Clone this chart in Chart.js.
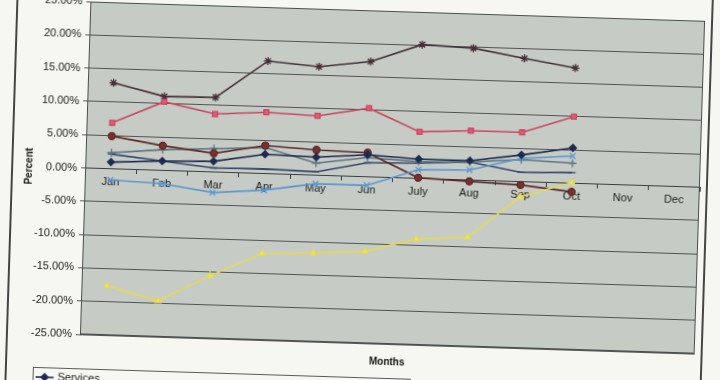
<!DOCTYPE html>
<html>
<head>
<meta charset="utf-8">
<script src="https://cdn.jsdelivr.net/npm/chart.js@4/dist/chart.umd.min.js"></script>
<style>
  html, body { margin: 0; padding: 0; background: #f6f6f2; overflow: hidden; }
  #wrap { position: relative; width: 720px; height: 380px; overflow: hidden; background: #f6f6f2; }
  #c { position: absolute; left: -20px; top: -20px; width: 760px; height: 440px;
       transform-origin: 410px 198px; transform: rotate(1.8deg); }
</style>
</head>
<body>
<div id="wrap"><canvas id="c" width="760" height="440"></canvas></div>
<script>
// ---- data (percent) ----
const months = ['Jan', 'Feb', 'Mar', 'Apr', 'May', 'Jun', 'July', 'Aug', 'Sep', 'Oct', 'Nov', 'Dec'];
const seriesNames = ['Services', 'Series 2', 'Series 3', 'Series 4', 'Series 5', 'Series 6', 'Series 7', 'Series 8'];
const services = [1.0, 1.4, 1.6, 2.9, 2.7, 3.3, 2.9, 2.9, 4.0, 5.3, null, null];
const series2  = [6.9, 10.3, 8.7, 9.2, 8.9, 10.3, 7.0, 7.4, 7.4, 10.0, null, null];
const series3  = [-17.6, -19.6, -15.6, -12.0, -11.7, -11.2, -9.1, -8.6, -2.3, 0.1, null, null];
const series4  = [-1.7, -2.0, -3.1, -2.5, -1.3, -1.3, 1.3, 1.5, 3.5, 4.1, null, null];
const series5  = [12.9, 11.1, 11.2, 16.9, 16.3, 17.3, 20.1, 19.8, 18.5, 17.3, null, null];
const series6  = [4.9, 3.7, 2.8, 4.2, 3.8, 3.6, 0.1, -0.2, -0.5, -1.3, null, null];
const series7  = [2.4, 3.1, 3.5, 3.9, 1.8, 2.9, 2.5, 2.7, 3.3, 3.0, null, null];
const series8  = [2.2, 1.4, 0.6, 0.7, 0.5, 2.1, 2.3, 2.7, 1.4, 1.6, null, null];
const yMin = -25, yMax = 25, yStep = 5;

const FONT = "'Liberation Sans', Arial, sans-serif";
const paper = '#f6f6f2';

function ds(label, data, color, style, fill, radius) {
  return {
    label, data,
    borderColor: color, backgroundColor: fill || color,
    pointBackgroundColor: fill || color, pointBorderColor: color,
    pointStyle: style, pointRadius: radius || 3.5, pointBorderWidth: 1.3,
    borderWidth: 1.6, tension: 0, spanGaps: false
  };
}

const datasets = [
  ds(seriesNames[0], services, '#1f2b4d', 'rectRot', '#1f2b4d', 3.5),
  ds(seriesNames[1], series2, '#c9485f', 'rect', '#e25a78', 3.5),
  ds(seriesNames[2], series3, '#e3d955', 'triangle', '#f0e55e', 3.5),
  ds(seriesNames[3], series4, '#5a98cf', 'crossRot', '#5a98cf', 4),
  ds(seriesNames[4], series5, '#45303a', 'star', '#45303a', 4),
  ds(seriesNames[5], series6, '#5a2a28', 'circle', '#7b2f2b', 3.5),
  ds(seriesNames[6], series7, '#5a7580', 'cross', '#5a7580', 4),
  ds(seriesNames[7], series8, '#36476b', 'line', '#36476b', 3.5)
];

const decor = {
  id: 'decor',
  beforeDraw(chart) {
    const { ctx, chartArea: a, width, height } = chart;
    ctx.save();
    ctx.fillStyle = paper;
    ctx.fillRect(0, 0, width, height);
    ctx.fillStyle = '#c7cbc6';
    ctx.fillRect(a.left, a.top, a.right - a.left, a.bottom - a.top);
    ctx.restore();
  },
  afterDraw(chart) {
    const { ctx, chartArea: a } = chart;
    ctx.save();
    // plot border
    ctx.strokeStyle = '#4a4e4e';
    ctx.lineWidth = 1;
    ctx.strokeRect(a.left + 0.5, a.top + 0.5, a.right - a.left - 1, a.bottom - a.top - 1);
    // outer chart frame
    ctx.strokeStyle = '#1a1a1a';
    ctx.lineWidth = 1.6;
    ctx.strokeRect(32, -30, 727 - 32, 520);
    // legend box
    ctx.strokeStyle = '#5a5a5a';
    ctx.lineWidth = 1;
    ctx.strokeRect(59.5, 398.5, 377, 140);
    // legend entries (vertical list)
    chart.data.datasets.forEach((d, i) => {
      const y = 408 + i * 14;
      ctx.strokeStyle = d.borderColor;
      ctx.lineWidth = 1.6;
      ctx.beginPath();
      ctx.moveTo(62, y); ctx.lineTo(80, y);
      ctx.stroke();
      if (Chart.helpers && Chart.helpers.drawPoint) {
        ctx.fillStyle = d.pointBackgroundColor;
        ctx.strokeStyle = d.pointBorderColor;
        ctx.lineWidth = 1.3;
        Chart.helpers.drawPoint(ctx, { pointStyle: d.pointStyle, radius: d.pointRadius, borderWidth: 1.3, rotation: 0 }, 71, y);
      }
      ctx.fillStyle = '#1a1a1a';
      ctx.font = '11px ' + FONT;
      ctx.textBaseline = 'middle';
      ctx.textAlign = 'left';
      ctx.fillText(d.label, 84, y);
    });
    ctx.restore();
  }
};

new Chart(document.getElementById('c'), {
  type: 'line',
  data: { labels: months, datasets },
  plugins: [decor],
  options: {
    responsive: false,
    animation: false,
    devicePixelRatio: 1,
    layout: { padding: { left: 38, right: 40, top: 31, bottom: 45 } },
    plugins: { legend: { display: false }, tooltip: { enabled: false } },
    scales: {
      x: {
        type: 'category',
        position: { y: 0 },
        offset: true,
        grid: { display: true, offset: true, drawOnChartArea: false, drawTicks: true, tickLength: 4, color: '#3a3e3e' },
        border: { display: true, color: '#3a3e3e', width: 1 },
        ticks: { color: '#1a1a1a', font: { family: FONT, size: 11 }, padding: 3, maxRotation: 0, autoSkip: false }
      },
      x2: {
        type: 'category',
        position: 'bottom',
        labels: months,
        offset: true,
        grid: { display: false },
        border: { display: false },
        ticks: { display: false },
        title: { display: true, text: 'Months', color: '#111', font: { family: FONT, size: 10, weight: 'bold' }, padding: { top: 0, bottom: 7 } },
        afterFit(s) { s.height = 31; }
      },
      y: {
        min: yMin, max: yMax,
        ticks: { stepSize: yStep, color: '#1a1a1a', font: { family: FONT, size: 11 }, padding: 4,
                 callback: v => v.toFixed(2) + '%' },
        grid: { color: 'rgba(60,64,64,0.85)', lineWidth: 1, tickLength: 4, drawTicks: true },
        border: { display: true, color: '#3a3e3e' },
        title: { display: true, text: 'Percent', color: '#111', font: { family: FONT, size: 10, weight: 'bold' }, padding: { top: 5, bottom: 4 } },
        afterFit(s) { s.width = 67; }
      }
    }
  }
});
</script>
</body>
</html>
